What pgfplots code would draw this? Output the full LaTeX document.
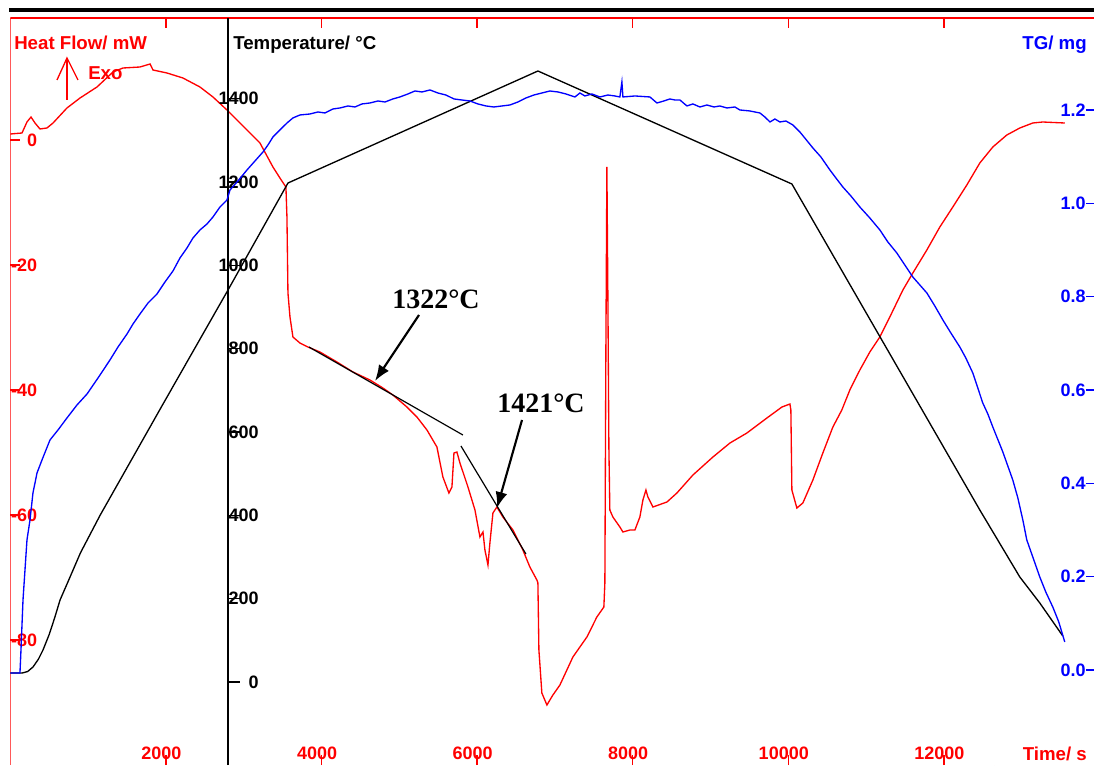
\documentclass[border=0pt]{standalone}
\usepackage{fontspec}
\setmainfont{Liberation Sans}
\newfontfamily\tnr{Liberation Serif}
\usepackage{pgfplots}
\pgfplotsset{compat=1.18}
\usetikzlibrary{arrows.meta}

\begin{document}
\begin{tikzpicture}
\useasboundingbox (0,0) rectangle (820.5pt,573.75pt);
\pgfplotsset{every axis/.append style={scale only axis, height=560.25pt,
  /pgf/number format/assume math mode=true, tick align=inside,
  tick label style={font=\fontsize{13.5}{16}\selectfont\bfseries}}}

% ---------- Heat flow (red) ----------
\begin{axis}[at={(7.8pt,0pt)}, anchor=south west, width=812.7pt,
  xmin=0, xmax=13930, ymin=-100, ymax=19.52,
  axis line style={draw=none},
  xtick={2000,4000,6000,8000,10000,12000},
  xticklabels={2000,4000,6000,8000,10000,12000},
  ytick={-80,-60,-40,-20,0}, yticklabels={-80,-60,-40,-20,0},
  xtick pos=both, ytick pos=left,
  major tick length=7.5pt,
  tick style={red, line width=1pt},
  xticklabel style={red, anchor=base, yshift=3.9pt, xshift=-3.4pt},
  yticklabel style={red, anchor=east, inner sep=0pt, xshift=20.25pt},
]
\draw[red, line width=1.5pt] (rel axis cs:0,0) -- (rel axis cs:0,1);
\draw[red, line width=1pt] (rel axis cs:0,1) -- (rel axis cs:1,1);
\addplot[red, line width=1pt] coordinates {
(0,0.96)(149,1.12)(213,2.88)(265,3.68)(316,2.72)(380,1.76)(470,1.92)(548,2.72)(727,5.12)(895,6.72)(1113,8.48)(1319,10.88)(1447,11.52)(1666,11.68)(1795,12.16)(1833,11.2)(2013,10.72)(2218,9.92)(2437,8.48)(2604,6.88)(2784,4.8)(2951,2.72)(3208,-0.48)(3375,-4.32)(3465,-6.08)(3542,-7.52)(3555,-12.32)(3568,-24.48)(3594,-28.32)(3632,-31.52)(3722,-32.48)(3825,-33.12)(3979,-33.92)(4198,-35.52)(4404,-37.12)(4622,-38.4)(4789,-39.68)(4917,-40.8)(5097,-42.72)(5226,-44.32)(5355,-46.4)(5483,-49.12)(5560,-53.92)(5637,-56.48)(5676,-55.52)(5702,-50.08)(5740,-49.92)(5779,-51.68)(5882,-55.52)(5972,-59.2)(6036,-63.52)(6075,-62.72)(6100,-65.6)(6139,-68)(6164,-64.48)(6203,-59.68)(6254,-58.72)(6331,-60.32)(6460,-62.4)(6588,-65.6)(6678,-68.32)(6768,-70.4)(6781,-70.88)(6794,-81.6)(6832,-88.48)(6897,-90.4)(6974,-88.8)(7064,-87.2)(7231,-82.72)(7411,-79.52)(7539,-76.32)(7629,-74.72)(7642,-70.88)(7655,-33.6)(7668,-4.32)(7681,-25.6)(7694,-49.6)(7706,-59.2)(7745,-60.32)(7835,-61.92)(7874,-62.72)(7964,-62.4)(8028,-62.4)(8092,-60.32)(8131,-57.6)(8170,-56)(8195,-57.12)(8260,-58.72)(8440,-57.92)(8568,-56.48)(8774,-53.6)(9031,-50.72)(9250,-48.48)(9468,-46.88)(9725,-44.48)(9918,-42.72)(10021,-42.24)(10033,-43.2)(10046,-56)(10110,-58.88)(10187,-58.08)(10316,-54.4)(10444,-50.08)(10573,-45.92)(10688,-43.2)(10791,-40)(10920,-36.8)(11048,-33.92)(11177,-31.52)(11305,-28.32)(11473,-24)(11601,-21.28)(11781,-17.6)(11948,-13.92)(12115,-10.72)(12295,-7.2)(12462,-3.68)(12629,-1.12)(12809,0.8)(12976,1.92)(13143,2.72)(13271,2.88)(13554,2.72)
};
\addplot[black, line width=0.9pt] coordinates {(3838,-33.12)(5817,-47.2)};
\addplot[black, line width=0.9pt] coordinates {(5792,-48.96)(6627,-66.24)};
\end{axis}

% ---------- Temperature (black) ----------
\begin{axis}[at={(171pt,0pt)}, anchor=south west, width=649.5pt,
  xmin=2796.8, xmax=13930, ymin=-199.2, ymax=1593.6, clip=false,
  hide x axis, axis y line*=left,
  y axis line style={black, line width=1pt},
  ytick={0,200,400,600,800,1000,1200,1400},
  yticklabels={0,200,400,600,800,1000,1200,1400},
  major tick length=9pt, tick style={black, line width=1pt},
  yticklabel style={black, anchor=east, inner sep=0pt, xshift=23.25pt},
]
\addplot[black, line width=1pt] coordinates {
(0,21.6)(149,21.6)(220,25)(290,36)(360,55)(419,77)(500,115)(570,155)(638,197)(750,245)(900,310)(1152,400)(1961,667)(2797,940.8)(3568,1197.6)(6781,1466.4)(10046,1195.2)(12462,412.8)(12976,252)(13233,189.6)(13529,110.4)
};
\end{axis}

% ---------- TG (blue) ----------
\begin{axis}[at={(7.8pt,0pt)}, anchor=south west, width=812.7pt,
  xmin=0, xmax=13930, ymin=-0.2036, ymax=1.3971,
  hide x axis, axis y line*=right, y axis line style={draw=none},
  ytick={0,0.2,0.4,0.6,0.8,1.0,1.2},
  yticklabels={0.0,0.2,0.4,0.6,0.8,1.0,1.2},
  major tick length=6pt, tick style={blue, line width=1pt},
  yticklabel style={blue, anchor=east, inner sep=0pt, xshift=-6pt},
]
\addplot[blue, line width=1pt] coordinates {
(0,-0.0064)(123,-0.0064)(136,0.0429)(162,0.15)(213,0.2786)(252,0.3214)(290,0.3793)(342,0.4221)(406,0.45)(509,0.4929)(612,0.5143)(727,0.54)(856,0.5679)(985,0.5914)(1126,0.6257)(1280,0.6643)(1383,0.6921)(1499,0.72)(1576,0.7414)(1666,0.7629)(1769,0.7864)(1884,0.8057)(1987,0.8314)(2090,0.855)(2180,0.8829)(2270,0.9043)(2347,0.9257)(2437,0.9429)(2527,0.9557)(2604,0.9707)(2694,0.9921)(2784,1.0071)(2823,1.0286)(2925,1.0479)(3041,1.0714)(3144,1.0907)(3247,1.11)(3311,1.125)(3375,1.1421)(3465,1.1571)(3555,1.1721)(3632,1.1829)
(3722,1.1893)(3851,1.1914)(3954,1.1957)(4043,1.1936)(4146,1.2021)(4236,1.2043)(4339,1.2086)(4429,1.2064)(4519,1.2129)(4622,1.215)(4725,1.2193)(4815,1.2171)(4917,1.2236)(5007,1.2279)(5110,1.2343)(5200,1.2407)(5290,1.2386)(5393,1.2429)(5496,1.2364)(5599,1.2321)(5702,1.2236)(5805,1.2214)(5907,1.2193)(6010,1.2129)(6113,1.2086)(6216,1.2064)(6319,1.2086)(6421,1.2107)(6524,1.2171)(6627,1.2257)(6730,1.2321)(6833,1.2364)(6935,1.2407)(7038,1.2386)(7141,1.2343)(7257,1.2279)(7321,1.2364)(7385,1.23)(7475,1.2343)(7578,1.2279)(7681,1.2321)(7771,1.23)(7835,1.2279)(7861,1.26)(7874,1.2279)(8028,1.23)(8221,1.2279)(8311,1.215)(8401,1.2193)(8478,1.2236)(8542,1.2214)(8607,1.2214)(8697,1.2086)(8774,1.2129)(8864,1.2064)(8954,1.2107)(9044,1.2064)(9121,1.2086)(9211,1.2043)(9313,1.2064)(9378,1.2)(9506,1.1979)(9635,1.1936)(9699,1.185)(9764,1.1743)(9828,1.1807)(9892,1.1743)(9969,1.1764)(10059,1.1679)(10149,1.1529)
(10316,1.1186)(10419,1.0993)(10535,1.0714)(10612,1.0543)(10701,1.035)(10805,1.0157)(10920,0.9921)(11048,0.9686)(11177,0.9429)(11280,0.9171)(11395,0.8936)(11498,0.8678)(11601,0.8421)(11691,0.825)(11781,0.8079)(11884,0.78)(11987,0.75)(12090,0.7221)(12205,0.6921)(12282,0.6686)(12372,0.6364)(12436,0.6043)(12500,0.5721)(12565,0.5486)(12629,0.5207)(12758,0.4671)(12886,0.4071)(12951,0.3686)(13015,0.3214)(13066,0.2786)(13143,0.2421)(13233,0.1993)(13310,0.1671)(13400,0.135)(13477,0.1029)(13554,0.06)
};
\end{axis}

% ---------- frame and annotations (pixel coordinates, y downward) ----------
\begin{scope}[x=0.75pt, y=-0.75pt, shift={(0pt,573.75pt)}]
\draw[black, line width=2.4pt] (9,10) -- (1094,10);
\node[anchor=base west, inner sep=0pt, red, font=\fontsize{14}{16}\selectfont\bfseries] at (14,49.5) {Heat Flow/ mW};
\node[anchor=base west, inner sep=0pt, black, font=\fontsize{14}{16}\selectfont\bfseries] at (233,49.5) {Temperature/ °C};
\node[anchor=base east, inner sep=0pt, blue, font=\fontsize{14}{16}\selectfont\bfseries] at (1087,50) {TG/ mg};
\node[anchor=base west, inner sep=0pt, red, font=\fontsize{14}{16}\selectfont\bfseries] at (88,80) {Exo};
\node[anchor=base east, inner sep=0pt, red, font=\fontsize{14}{16}\selectfont\bfseries] at (1087,760) {Time/ s};
\draw[red, line width=1pt] (67,100) -- (67,58);
\draw[red, line width=1pt] (57,80) -- (67,58) -- (78,80);
\node[anchor=base west, inner sep=0pt, font=\fontsize{21}{24}\selectfont\tnr\bfseries] at (392,308) {1322°C};
\node[anchor=base west, inner sep=0pt, font=\fontsize{21}{24}\selectfont\tnr\bfseries] at (497,412) {1421°C};
\draw[black, line width=1.6pt, -{Latex[length=12pt, width=9pt]}] (419,315) -- (375,381);
\draw[black, line width=1.6pt, -{Latex[length=12pt, width=9pt]}] (522,420) -- (497,508);
\end{scope}
\end{tikzpicture}
\end{document}
